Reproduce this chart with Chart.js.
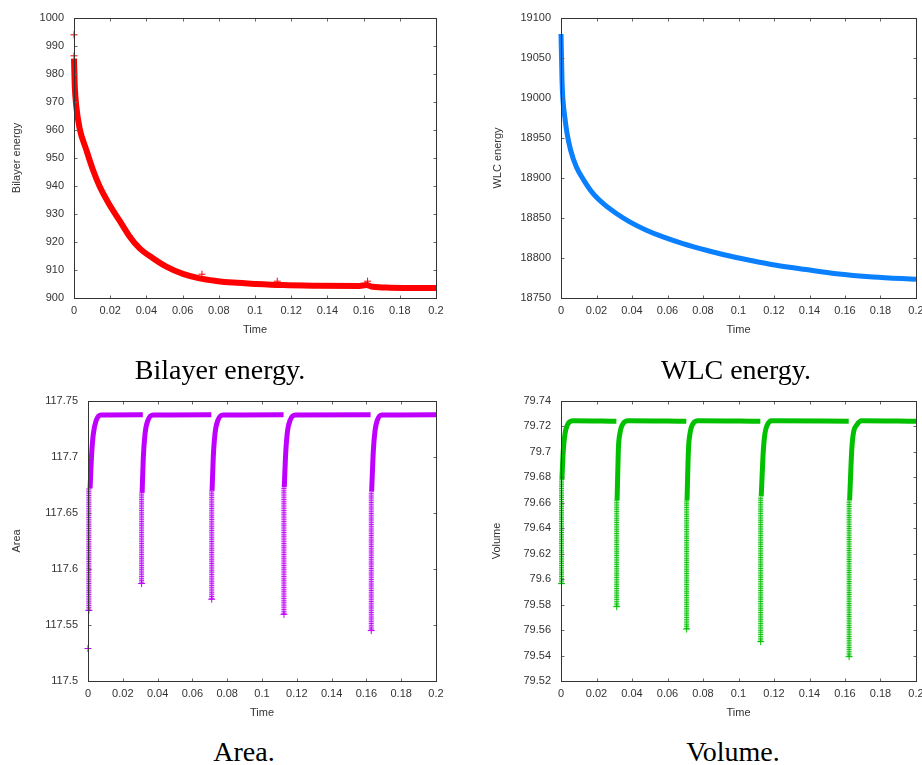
<!DOCTYPE html>
<html>
<head>
<meta charset="utf-8">
<script src="https://cdn.jsdelivr.net/npm/chart.js@4.4.1/dist/chart.umd.min.js"></script>
<style>
  body { margin: 0; background: #fff; width: 922px; height: 765px; position: relative; overflow: hidden; }
  canvas { position: absolute; }
  .cap { position: absolute; font-family: "Liberation Serif", "Times New Roman", serif; font-size: 28px;
         line-height: 28px; white-space: nowrap; transform: translateX(-50%); color: #000; }
</style>
</head>
<body>
<canvas id="bilayer" width="460" height="345" style="left:0;top:0"></canvas>
<canvas id="wlc" width="462" height="345" style="left:460px;top:0"></canvas>
<canvas id="area" width="460" height="345" style="left:0;top:383px"></canvas>
<canvas id="volume" width="462" height="345" style="left:460px;top:383px"></canvas>
<div class="cap" style="left:220px;top:356px">Bilayer energy.</div>
<div class="cap" style="left:736px;top:356px">WLC energy.</div>
<div class="cap" style="left:244px;top:738px">Area.</div>
<div class="cap" style="left:733px;top:738px">Volume.</div>
<script>
// tick labels
const timeTicks = [0, 0.02, 0.04, 0.06, 0.08, 0.1, 0.12, 0.14, 0.16, 0.18, 0.2];
const bilayerTicks = [900, 910, 920, 930, 940, 950, 960, 970, 980, 990, 1000];
const wlcTicks = [18750, 18800, 18850, 18900, 18950, 19000, 19050, 19100];
const areaTicks = [117.5, 117.55, 117.6, 117.65, 117.7, 117.75];
const volumeTicks = [79.52, 79.54, 79.56, 79.58, 79.6, 79.62, 79.64, 79.66, 79.68, 79.7, 79.72, 79.74];

// bilayer energy
const bilayerTime = [0, 0.0004, 0.0013, 0.0031, 0.0068, 0.0105, 0.0142, 0.0197, 0.0252, 0.0308, 0.0363, 0.0436,
  0.0510, 0.0602, 0.0694, 0.0786, 0.0878, 0.1007, 0.1155, 0.1340, 0.1578, 0.1615, 0.1650, 0.1744, 0.2000];
const bilayerValue = [985.5, 976, 968.3, 960.6, 952.9, 945.7, 939.8, 933.2, 927.6, 921.9, 917.7, 914.2,
  911.2, 908.6, 907.0, 906.1, 905.5, 905.0, 904.6, 904.4, 904.3, 904.6, 904.0, 903.7, 903.6];
const bilayerMarkTime = [0, 0, 0.0305, 0.0707, 0.1123, 0.1622];
const bilayerMarkValue = [994, 986.5, 922.3, 908.5, 906, 906];

// WLC energy
const wlcTime = [0, 0.0003, 0.0006, 0.0011, 0.0021, 0.0034, 0.0054, 0.0086, 0.0128, 0.0180, 0.0237, 0.0312,
  0.0387, 0.0481, 0.0575, 0.0687, 0.0819, 0.0931, 0.1063, 0.1213, 0.1382, 0.1551, 0.1758, 0.2000];
const wlcValue = [19080, 19050, 19020, 18997.7, 18976.8, 18955.9, 18935, 18914, 18897.4, 18880.7, 18868.2, 18855.6,
  18845.2, 18834.8, 18826.4, 18818, 18809.7, 18803.4, 18797.2, 18790.9, 18785.5, 18780.4, 18776.3, 18773.3];

// area (null = break between relaxation runs)
const areaTime = [0.0012, 0.0020, 0.0030, 0.0048, 0.0075, 0.0315, null,
  0.0311, 0.0318, 0.0328, 0.0345, 0.0375, 0.0709, null,
  0.0713, 0.0720, 0.0730, 0.0747, 0.0777, 0.1124, null,
  0.1128, 0.1135, 0.1145, 0.1162, 0.1192, 0.1624, null,
  0.1630, 0.1640, 0.1650, 0.1663, 0.1688, 0.2000];
const areaValue = [117.672, 117.700, 117.720, 117.733, 117.7375, 117.7378, null,
  117.668, 117.700, 117.721, 117.733, 117.7375, 117.7378, null,
  117.670, 117.700, 117.721, 117.733, 117.7375, 117.7378, null,
  117.673, 117.700, 117.721, 117.733, 117.7375, 117.7378, null,
  117.669, 117.706, 117.724, 117.733, 117.7375, 117.7378];
const areaDropTime = [0.0005, 0.0308, 0.0711, 0.1126, 0.1628];
const areaDropLow = [117.563, 117.587, 117.573, 117.5595, 117.545];
const areaDropHigh = [117.672, 117.668, 117.670, 117.673, 117.669];
const areaStrayTime = [0];
const areaStrayValue = [117.529];

// volume
const volumeTime = [0.0005, 0.0013, 0.0023, 0.0041, 0.0069, 0.0312, null,
  0.0316, 0.0323, 0.0332, 0.0351, 0.0379, 0.0706, null,
  0.0710, 0.0718, 0.0727, 0.0745, 0.0773, 0.1123, null,
  0.1128, 0.1140, 0.1149, 0.1162, 0.1187, 0.1621, null,
  0.1626, 0.1638, 0.1647, 0.1666, 0.1694, 0.2000];
const volumeValue = [79.678, 79.7015, 79.7146, 79.7225, 79.7245, 79.724, null,
  79.662, 79.7015, 79.7146, 79.7225, 79.7245, 79.724, null,
  79.662, 79.7015, 79.7146, 79.7225, 79.7245, 79.724, null,
  79.665, 79.7015, 79.7146, 79.7211, 79.7245, 79.724, null,
  79.662, 79.7015, 79.7146, 79.7211, 79.7245, 79.724];
const volumeDropTime = [0.0003, 0.0314, 0.0708, 0.1125, 0.1623];
const volumeDropLow = [79.5965, 79.5784, 79.5608, 79.5509, 79.5391];
const volumeDropHigh = [79.678, 79.662, 79.662, 79.665, 79.662];

Chart.defaults.font.family = "'Liberation Sans', Arial, sans-serif";
Chart.defaults.font.size = 11;
Chart.defaults.color = "#333";

const fmt = (v) => String(Number(Number(v).toFixed(6)));
const pts = (xs, ys) => xs.map((x, i) => ({ x: x, y: ys[i] }));

function dropPts(ts, lo, hi) {
  const out = [];
  ts.forEach((t, i) => {
    out.push({ x: t, y: lo[i] }, { x: t, y: hi[i] }, { x: null, y: null });
  });
  return out;
}

// gnuplot-style frame with inward ticks on all four sides
const frame = {
  id: "frame",
  afterDatasetsDraw(chart) {
    const { ctx, chartArea: a, scales: { x, y } } = chart;
    const L = Math.round(a.left) + 0.5, R = Math.round(a.right) + 0.5;
    const T = Math.round(a.top) + 0.5, B = Math.round(a.bottom) + 0.5;
    ctx.save();
    ctx.lineWidth = 1;
    ctx.strokeStyle = "#666";
    ctx.beginPath();
    x.ticks.forEach((t) => {
      const px = Math.round(x.getPixelForValue(t.value)) + 0.5;
      ctx.moveTo(px, B); ctx.lineTo(px, B - 3);
      ctx.moveTo(px, T); ctx.lineTo(px, T + 3);
    });
    y.ticks.forEach((t) => {
      const py = Math.round(y.getPixelForValue(t.value)) + 0.5;
      ctx.moveTo(L, py); ctx.lineTo(L + 3, py);
      ctx.moveTo(R, py); ctx.lineTo(R - 3, py);
    });
    ctx.stroke();
    ctx.strokeStyle = "#333";
    ctx.strokeRect(L, T, R - L, B - T);
    ctx.restore();
  }
};

function makeChart(id, o) {
  return new Chart(document.getElementById(id), {
    type: "scatter",
    data: { datasets: o.datasets },
    options: {
      responsive: false,
      animation: false,
      devicePixelRatio: 1,
      layout: { padding: { left: 0, top: 18, right: o.padRight, bottom: 0 } },
      plugins: { legend: { display: false }, tooltip: { enabled: false } },
      scales: {
        x: {
          type: "linear", min: 0, max: 0.2,
          afterBuildTicks: (s) => { s.ticks = timeTicks.map((v) => ({ value: v })); },
          ticks: { padding: 6, callback: fmt, autoSkip: false, maxRotation: 0 },
          grid: { display: false, drawTicks: false },
          border: { display: false },
          title: { display: true, text: "Time", font: { size: 11 }, padding: { top: 0, bottom: 8 } },
          afterFit: (s) => { s.height = 47; s.paddingLeft = 0; s.paddingRight = 0; }
        },
        y: {
          type: "linear", min: o.yTicks[0], max: o.yTicks[o.yTicks.length - 1],
          afterBuildTicks: (s) => { s.ticks = o.yTicks.map((v) => ({ value: v })); },
          ticks: { padding: 10, callback: fmt, autoSkip: false },
          grid: { display: false, drawTicks: false },
          border: { display: false },
          title: { display: true, text: o.yTitle, font: { size: 11 }, padding: { top: o.titlePad, bottom: 0 } },
          afterFit: (s) => { s.width = o.yWidth; s.paddingTop = 0; s.paddingBottom = 0; }
        }
      }
    },
    plugins: [frame]
  });
}

function curve(data, color, width) {
  return { data: data, showLine: true, borderColor: color, backgroundColor: color, borderWidth: width,
           pointRadius: 0, cubicInterpolationMode: "monotone", clip: 6 };
}
function marks(data, color) {
  return { data: data, showLine: false, pointStyle: "cross", pointRadius: 3.5, borderColor: color,
           borderWidth: 1, clip: 6 };
}
// a column of stacked "+" marks: pale band, dashed cross bars, thin stem, lowest mark
function drops(ts, lo, hi, color, rgb) {
  const d = dropPts(ts, lo, hi);
  return [
    { data: d, showLine: true, borderColor: "rgba(" + rgb + ",0.85)", borderWidth: 5, borderDash: [1, 1.2],
      pointRadius: 0, clip: 6 },
    { data: d, showLine: true, borderColor: "rgba(" + rgb + ",0.7)", borderWidth: 1.2, pointRadius: 0, clip: 6 },
    { data: d, showLine: true, borderColor: "rgba(" + rgb + ",0.28)", borderWidth: 5, pointRadius: 0, clip: 6 },
    marks(pts(ts, lo), color)
  ];
}

const RED = "#ff0000", BLUE = "#0a80ff", PURPLE = "#c000ff", GREEN = "#00c000";

makeChart("bilayer", {
  yTicks: bilayerTicks, yTitle: "Bilayer energy", titlePad: 10, yWidth: 74, padRight: 24,
  datasets: [
    curve(pts(bilayerTime, bilayerValue), RED, 6),
    marks(pts(bilayerMarkTime, bilayerMarkValue), RED)
  ]
});

makeChart("wlc", {
  yTicks: wlcTicks, yTitle: "WLC energy", titlePad: 31, yWidth: 101, padRight: 6,
  datasets: [curve(pts(wlcTime, wlcValue), BLUE, 5)]
});

makeChart("area", {
  yTicks: areaTicks, yTitle: "Area", titlePad: 10, yWidth: 88, padRight: 24,
  datasets: [
    curve(pts(areaTime, areaValue), PURPLE, 5),
    ...drops(areaDropTime, areaDropLow, areaDropHigh, PURPLE, "192,0,255"),
    marks(pts(areaStrayTime, areaStrayValue), PURPLE)
  ]
});

makeChart("volume", {
  yTicks: volumeTicks, yTitle: "Volume", titlePad: 30, yWidth: 101, padRight: 6,
  datasets: [
    curve(pts(volumeTime, volumeValue), GREEN, 5),
    ...drops(volumeDropTime, volumeDropLow, volumeDropHigh, GREEN, "0,192,0")
  ]
});
</script>
</body>
</html>
